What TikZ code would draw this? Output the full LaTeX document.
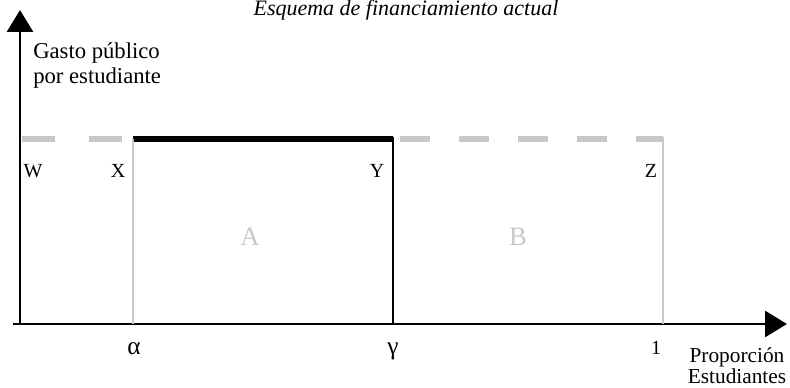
\documentclass[tikz,border=0pt]{standalone}
\usepackage{fontspec}
\setmainfont{Liberation Serif}
\usetikzlibrary{arrows.meta}
\definecolor{grisclaro}{RGB}{200,200,200}

\begin{document}
\begin{tikzpicture}[x=0.75pt, y=-0.75pt,
    every node/.style={font=\fontsize{13}{15}\selectfont, inner sep=0pt},
    eje/.style={line width=2.2pt, -{Triangle[length=16.5pt, width=19.5pt]}},
    nivel/.style={line width=3.8pt, grisclaro},
    letra/.style={font=\fontsize{15}{17}\selectfont},
    griega/.style={font=\fontsize{19}{21}\selectfont},
    area/.style={font=\fontsize{20}{22}\selectfont, text=grisclaro}]
    \useasboundingbox (0,0) rectangle (790,388);

    % ---------------- axes ----------------
    \coordinate (origen) at (20,324);
    \coordinate (ytop) at (20,10);
    \coordinate (xfin) at (787,324);
    \draw[eje] (origen) -- (ytop);
    \draw[eje] (13,324) -- (xfin);

    % ---------------- level line ----------------
    \coordinate (w) at (22,139);
    \coordinate (x) at (133,139);
    \coordinate (y) at (393,139);
    \coordinate (z) at (663,139);
    \draw[nivel, dash pattern=on 24.75pt off 25.5pt] (w) -- (123,139);
    \draw[nivel, dash pattern=on 22.5pt off 21.75pt] (400,139) -- (z);
    \draw[line width=3.8pt] (x) -- (y);

    % verticals
    \draw[grisclaro, line width=1.3pt] (x) -- (x |- origen);
    \draw[line width=1.6pt] (393,137) -- (y |- origen);
    \draw[grisclaro, line width=1.3pt] (663,137) -- (z |- origen);

    % ---------------- labels ----------------
    \node[anchor=base, font=\fontsize{16.5}{19}\selectfont\itshape] (titulo) at (406,16) {Esquema de financiamiento actual};
    \node[align=left, anchor=north west, font=\fontsize{17}{19}\selectfont] (gasto) at (33,42) {Gasto público\\por estudiante};

    \node[letra] (lw) at (33,171) {W};
    \node[letra] (lx) at (118,171) {X};
    \node[letra] (ly) at (377,171) {Y};
    \node[letra] (lz) at (651,171) {Z};

    \node[area] (la) at (250,237) {A};
    \node[area] (lb) at (518,237) {B};

    \node[griega] (alfa) at (134,349) {α};
    \node[griega] (gama) at (393,351) {γ};
    \node[letra] (uno) at (656,348) {1};
    \node[align=center, font=\fontsize{16}{14}\selectfont] (prop) at (737,366) {Proporción\\Estudiantes};
\end{tikzpicture}
\end{document}
